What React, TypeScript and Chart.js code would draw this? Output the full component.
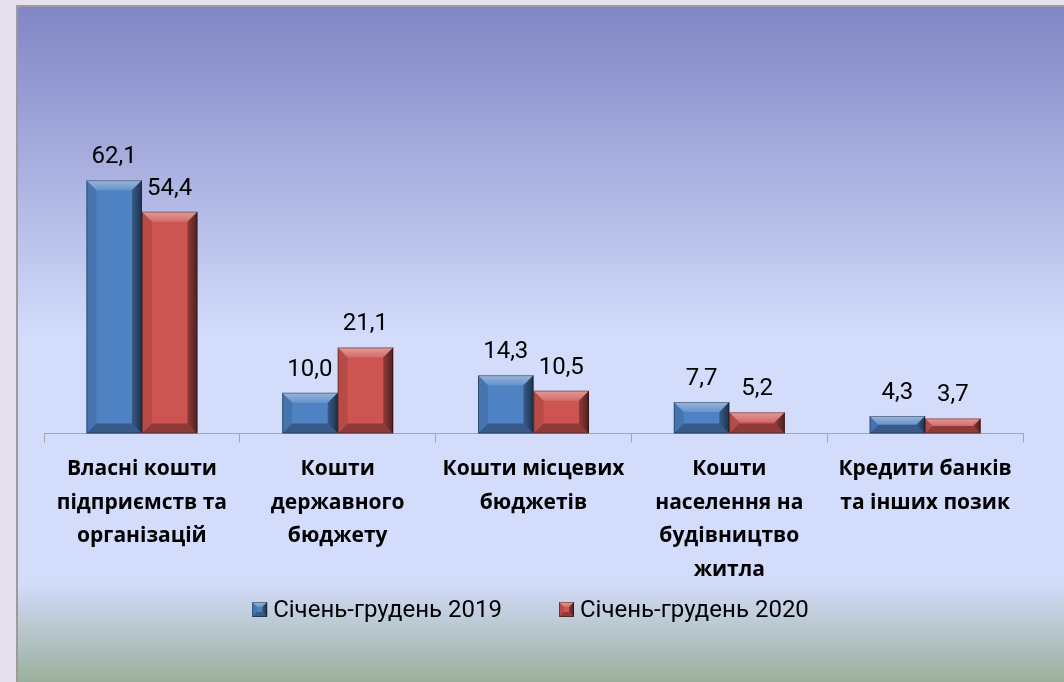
import React, { useEffect, useRef } from 'react';
import { Chart, registerables } from 'chart.js';

Chart.register(...registerables);

const categories: string[][] = [
  ['Власні кошти', 'підприємств та', 'організацій'],
  ['Кошти', 'державного', 'бюджету'],
  ['Кошти місцевих', 'бюджетів'],
  ['Кошти', 'населення на', 'будівництво', 'житла'],
  ['Кредити банків', 'та інших позик'],
];
const series2019 = [62.1, 10.0, 14.3, 7.7, 4.3];
const series2020 = [54.4, 21.1, 10.5, 5.2, 3.7];
const seriesLabels = ['Січень-грудень 2019', 'Січень-грудень 2020'];
const seriesColors = ['#4f82c3', '#cc5451'];

const FONT = 'Roboto, "Open Sans", sans-serif';
const LABEL_FONT = '"Open Sans", Roboto, sans-serif';

function drawBevel(ctx: CanvasRenderingContext2D, l: number, t: number, r: number, btm: number, size: number) {
  const w = r - l;
  const h = btm - t;
  const b = Math.max(0, Math.min(size, w / 2, h / 2));
  const poly = (pts: number[][], fill: string | CanvasGradient) => {
    ctx.beginPath();
    ctx.moveTo(pts[0][0], pts[0][1]);
    for (let i = 1; i < pts.length; i++) ctx.lineTo(pts[i][0], pts[i][1]);
    ctx.closePath();
    ctx.fillStyle = fill;
    ctx.fill();
  };
  ctx.save();
  const gt = ctx.createLinearGradient(0, t, 0, t + b);
  gt.addColorStop(0, 'rgba(255,255,255,0.42)');
  gt.addColorStop(1, 'rgba(255,255,255,0.14)');
  poly([[l, t], [r, t], [r - b, t + b], [l + b, t + b]], gt);
  poly([[l, t], [l + b, t + b], [l + b, btm - b], [l, btm]], 'rgba(0,0,0,0.10)');
  const gr = ctx.createLinearGradient(r - b, 0, r, 0);
  gr.addColorStop(0, 'rgba(0,0,0,0.30)');
  gr.addColorStop(1, 'rgba(0,0,0,0.62)');
  poly([[r, t], [r, btm], [r - b, btm - b], [r - b, t + b]], gr);
  poly([[l, btm], [r, btm], [r - b, btm - b], [l + b, btm - b]], 'rgba(0,0,0,0.30)');
  ctx.strokeStyle = 'rgba(0,0,0,0.35)';
  ctx.lineWidth = 1;
  ctx.strokeRect(l + 0.5, t + 0.5, w - 1, h - 1);
  ctx.restore();
}

const bevelPlugin = {
  id: 'bevel',
  afterDatasetsDraw(chart: any) {
    const ctx = chart.ctx;
    chart.data.datasets.forEach((ds: any, i: number) => {
      const meta = chart.getDatasetMeta(i);
      meta.data.forEach((el: any) => {
        const { x, y, base, width } = el.getProps(['x', 'y', 'base', 'width'], true);
        drawBevel(ctx, x - width / 2, y, x + width / 2, base, 10);
      });
    });
  },
};

const valueLabelPlugin = {
  id: 'valueLabels',
  afterDatasetsDraw(chart: any) {
    const ctx = chart.ctx;
    ctx.save();
    ctx.font = `24px ${FONT}`;
    ctx.fillStyle = '#000';
    ctx.textAlign = 'center';
    ctx.textBaseline = 'middle';
    chart.data.datasets.forEach((ds: any, i: number) => {
      const meta = chart.getDatasetMeta(i);
      meta.data.forEach((el: any, j: number) => {
        const { x, y } = el.getProps(['x', 'y'], true);
        const txt = Number(ds.data[j]).toFixed(1).replace('.', ',');
        ctx.fillText(txt, x, y - 23);
      });
    });
    ctx.restore();
  },
};

// Legend drawn below the category labels, centred under the plot
const legendPlugin = {
  id: 'bevelLegend',
  afterDraw(chart: any) {
    const ctx = chart.ctx;
    const area = chart.chartArea;
    const box = 15;
    const boxGap = 6;
    const itemGap = 57;
    ctx.save();
    ctx.font = `24px ${FONT}`;
    ctx.textBaseline = 'middle';
    ctx.textAlign = 'left';
    const items = chart.data.datasets.map((ds: any) => ({ text: ds.label, color: ds.backgroundColor, w: ctx.measureText(ds.label).width }));
    const total = items.reduce((s: number, it: any, i: number) => s + box + boxGap + it.w + (i > 0 ? itemGap : 0), 0);
    let x = (area.left + area.right) / 2 - 3 - total / 2;
    const cy = chart.scales.x.bottom + 19;
    items.forEach((it: any) => {
      ctx.fillStyle = it.color;
      ctx.fillRect(x, cy - box / 2, box, box);
      drawBevel(ctx, x, cy - box / 2, x + box, cy + box / 2, 5);
      ctx.fillStyle = '#000';
      ctx.fillText(it.text, x + box + boxGap, cy + 1);
      x += box + boxGap + it.w + itemGap;
    });
    ctx.restore();
  },
};

export default function App() {
  const ref = useRef<HTMLCanvasElement | null>(null);
  useEffect(() => {
    if (!ref.current) return;
    const chart = new Chart(ref.current, {
      type: 'bar',
      data: {
        labels: categories,
        datasets: [
          { label: seriesLabels[0], data: series2019, backgroundColor: seriesColors[0], borderWidth: 0 },
          { label: seriesLabels[1], data: series2020, backgroundColor: seriesColors[1], borderWidth: 0 },
        ],
      },
      options: {
        responsive: false,
        animation: false,
        layout: { padding: { left: 44, right: 41, top: 148, bottom: 91.5 } },
        datasets: { bar: { categoryPercentage: 0.567, barPercentage: 1 } },
        scales: {
          x: {
            grid: { offset: true, drawOnChartArea: false, drawTicks: true, tickLength: 9, color: '#a6a6a6' },
            border: { color: '#a6a6a6', width: 1 },
            ticks: {
              color: '#000',
              padding: 10,
              maxRotation: 0,
              autoSkip: false,
              font: { family: LABEL_FONT, size: 21, weight: 'bold', lineHeight: 1.595 },
            },
            afterFit: (s: any) => {
              s.height = 157;
            },
          },
          y: { display: false, min: 0, max: 70 },
        },
        plugins: {
          tooltip: { enabled: false },
          legend: { display: false },
        },
      },
      plugins: [bevelPlugin, valueLabelPlugin, legendPlugin],
    });
    return () => chart.destroy();
  }, []);

  return (
    <div style={{ position: 'fixed', left: 0, top: 0, width: 1064, height: 682, background: '#e6e0ec', overflow: 'hidden' }}>
      <div
        style={{
          position: 'absolute',
          left: 16,
          top: 5,
          width: 1046,
          height: 690,
          borderLeft: '2px solid #9c9c9c',
          borderTop: '2px solid #9c9c9c',
          borderRight: '1px solid #9c9c9c',
          background: 'linear-gradient(to bottom, #8186c5 0px, #d3dcfb 330px, #d3dcfb 575px, #9aaf9a 677px)',
        }}
      />
      <canvas ref={ref} width={1064} height={682} style={{ position: 'absolute', left: 0, top: 0 }} />
    </div>
  );
}
